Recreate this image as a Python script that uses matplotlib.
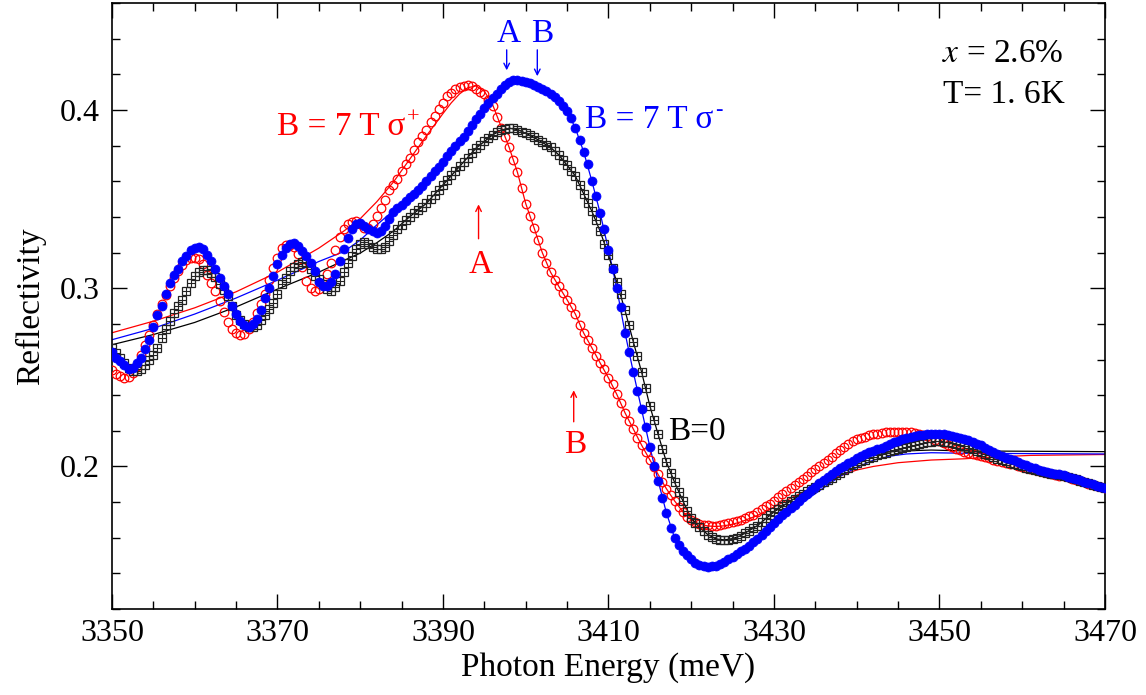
import matplotlib
matplotlib.use("Agg")
import matplotlib.pyplot as plt
import numpy as np

plt.rcParams['font.family'] = ['Liberation Serif', 'DejaVu Serif']
plt.rcParams['mathtext.fontset'] = 'stix'

# measured spectra, 0.5 meV steps from 3350 to 3470 meV
energy = np.arange(3350, 3470.25, 0.5)

sigma_minus = [  # B = 7 T, sigma-
    0.264, 0.261, 0.259, 0.257, 0.2548, 0.2555, 0.258, 0.261, 0.266, 0.271,
    0.278, 0.285, 0.290, 0.297, 0.303, 0.3075, 0.311, 0.315, 0.318, 0.3215,
    0.3228, 0.3234, 0.3218, 0.3185, 0.315, 0.311, 0.306, 0.301, 0.2965, 0.290,
    0.2855, 0.2815, 0.2793, 0.2783, 0.280, 0.283, 0.2875, 0.2945, 0.300, 0.3066,
    0.3135, 0.3185, 0.3228, 0.325, 0.3252, 0.3236, 0.321, 0.3178, 0.314, 0.3095,
    0.3035, 0.3012, 0.301, 0.3035, 0.308, 0.315, 0.322, 0.328, 0.333, 0.3358,
    0.3365, 0.335, 0.3332, 0.332, 0.331, 0.3322, 0.335, 0.339, 0.343, 0.3448,
    0.3465, 0.349, 0.351, 0.3528, 0.355, 0.3575, 0.360, 0.363, 0.3655, 0.368,
    0.371, 0.374, 0.3768, 0.3796, 0.3824, 0.385, 0.388, 0.3915, 0.395, 0.398,
    0.401, 0.4037, 0.4065, 0.409, 0.4117, 0.4142, 0.4158, 0.4168, 0.4168, 0.4164,
    0.4157, 0.415, 0.414, 0.4131, 0.412, 0.4109, 0.4092, 0.4075, 0.405, 0.4025,
    0.3995, 0.3953, 0.3898, 0.3832, 0.3766, 0.3695, 0.360, 0.3518, 0.3421, 0.3332,
    0.3215, 0.311, 0.300, 0.2895, 0.275, 0.264, 0.253, 0.2425, 0.232, 0.222,
    0.211, 0.2005, 0.192, 0.1825, 0.174, 0.1655, 0.1598, 0.1558, 0.1525, 0.1502,
    0.1478, 0.1458, 0.1447, 0.144, 0.1438, 0.1439, 0.1444, 0.1451, 0.1465, 0.1479,
    0.1493, 0.1507, 0.1523, 0.1539, 0.1556, 0.1575, 0.1594, 0.1617, 0.164, 0.1662,
    0.1683, 0.1704, 0.1725, 0.1746, 0.1766, 0.1786, 0.1806, 0.1826, 0.1846, 0.1866,
    0.1886, 0.1905, 0.1922, 0.194, 0.1958, 0.1975, 0.199, 0.2005, 0.202, 0.2033,
    0.2045, 0.2057, 0.2068, 0.2079, 0.2088, 0.2097, 0.2106, 0.2115, 0.2125, 0.2135,
    0.2145, 0.2152, 0.216, 0.2166, 0.2172, 0.2176, 0.2179, 0.2181, 0.2183, 0.2183,
    0.2182, 0.218, 0.2176, 0.2171, 0.2165, 0.2159, 0.2153, 0.2146, 0.2138, 0.2128,
    0.2118, 0.2106, 0.2094, 0.2082, 0.207, 0.206, 0.205, 0.2042, 0.2034, 0.2025,
    0.2016, 0.2008, 0.1999, 0.199, 0.1982, 0.1975, 0.1969, 0.1964, 0.1959, 0.1955,
    0.195, 0.1943, 0.1936, 0.193, 0.1923, 0.1915, 0.1907, 0.1899, 0.1892, 0.1886,
    0.188]

sigma_plus = [  # B = 7 T, sigma+
    0.2543, 0.252, 0.2505, 0.2497, 0.2502, 0.2525, 0.2565, 0.2625, 0.268, 0.274,
    0.2795, 0.2855, 0.291, 0.296, 0.301, 0.3055, 0.3095, 0.313, 0.3158, 0.3172,
    0.3172, 0.3162, 0.3135, 0.3076, 0.303, 0.2985, 0.2928, 0.2865, 0.2812, 0.277,
    0.2748, 0.274, 0.2745, 0.2772, 0.2812, 0.2862, 0.291, 0.2965, 0.3045, 0.3115,
    0.317, 0.3228, 0.3245, 0.3245, 0.323, 0.319, 0.312, 0.304, 0.300, 0.2985,
    0.2995, 0.3025, 0.308, 0.314, 0.3215, 0.329, 0.3335, 0.336, 0.3373, 0.3375,
    0.336, 0.334, 0.334, 0.336, 0.3403, 0.345, 0.3495, 0.355, 0.358, 0.3615,
    0.366, 0.3695, 0.373, 0.3775, 0.382, 0.3856, 0.3888, 0.393, 0.3965, 0.4005,
    0.404, 0.408, 0.4098, 0.4115, 0.413, 0.4137, 0.414, 0.4135, 0.412, 0.4103,
    0.4087, 0.4055, 0.402, 0.3963, 0.390, 0.385, 0.379, 0.372, 0.365, 0.356,
    0.3475, 0.3403, 0.334, 0.3272, 0.320, 0.3141, 0.309, 0.3045, 0.301, 0.2975,
    0.2935, 0.2895, 0.2855, 0.2795, 0.2749, 0.271, 0.2665, 0.2617, 0.258, 0.2545,
    0.2497, 0.246, 0.2405, 0.2355, 0.2301, 0.2255, 0.221, 0.216, 0.212, 0.208,
    0.2037, 0.1996, 0.1955, 0.1915, 0.1875, 0.184, 0.1806, 0.1772, 0.1745, 0.1718,
    0.170, 0.1688, 0.1678, 0.1672, 0.1669, 0.1667, 0.1666, 0.1671, 0.1677, 0.1683,
    0.1688, 0.1694, 0.1702, 0.171, 0.172, 0.173, 0.1744, 0.176, 0.1776, 0.1792,
    0.1808, 0.1826, 0.1844, 0.186, 0.1878, 0.1895, 0.1913, 0.1931, 0.1949, 0.1967,
    0.1985, 0.200, 0.2018, 0.2036, 0.2055, 0.2075, 0.2095, 0.211, 0.2128, 0.214,
    0.2152, 0.2162, 0.2168, 0.2174, 0.218, 0.2184, 0.2188, 0.2191, 0.2193, 0.2195,
    0.2195, 0.2195, 0.2193, 0.2191, 0.2189, 0.2184, 0.2178, 0.217, 0.216, 0.215,
    0.214, 0.213, 0.2118, 0.2108, 0.2098, 0.209, 0.2082, 0.2075, 0.2068, 0.2063,
    0.2058, 0.2052, 0.2045, 0.2038, 0.2031, 0.2026, 0.2021, 0.2016, 0.2011, 0.2004,
    0.1998, 0.1993, 0.1987, 0.198, 0.1973, 0.1967, 0.1962, 0.1957, 0.1953, 0.1949,
    0.1944, 0.1938, 0.1932, 0.1926, 0.192, 0.1912, 0.1904, 0.1896, 0.1889, 0.1883,
    0.1877]

zero_field = [  # B = 0
    0.2665, 0.2638, 0.261, 0.258, 0.2555, 0.2538, 0.2535, 0.2545, 0.2571, 0.2595,
    0.2625, 0.2665, 0.2718, 0.2772, 0.2815, 0.2862, 0.2899, 0.2935, 0.2983, 0.3028,
    0.3067, 0.309, 0.3102, 0.310, 0.3088, 0.3062, 0.3025, 0.299, 0.2955, 0.2899,
    0.285, 0.2823, 0.280, 0.2783, 0.278, 0.2796, 0.282, 0.285, 0.2882, 0.2917,
    0.2965, 0.3025, 0.3055, 0.3094, 0.3118, 0.3136, 0.3148, 0.314, 0.311, 0.307,
    0.305, 0.3022, 0.2995, 0.2985, 0.3005, 0.304, 0.309, 0.314, 0.318, 0.322,
    0.325, 0.3262, 0.325, 0.3232, 0.3222, 0.3222, 0.3234, 0.3265, 0.330, 0.3332,
    0.3355, 0.338, 0.3402, 0.342, 0.3437, 0.3455, 0.3476, 0.350, 0.3524, 0.355,
    0.358, 0.361, 0.3636, 0.366, 0.3683, 0.3706, 0.373, 0.3758, 0.3786, 0.3806,
    0.3826, 0.3845, 0.386, 0.3875, 0.3887, 0.3895, 0.3898, 0.3897, 0.389, 0.3879,
    0.387, 0.386, 0.3846, 0.3832, 0.3818, 0.3804, 0.379, 0.3772, 0.3748, 0.372,
    0.369, 0.366, 0.363, 0.358, 0.353, 0.3478, 0.3431, 0.3384, 0.3319, 0.325,
    0.3185, 0.3115, 0.3035, 0.2965, 0.2875, 0.2795, 0.270, 0.262, 0.253, 0.244,
    0.234, 0.226, 0.218, 0.210, 0.2025, 0.1965, 0.191, 0.1855, 0.1806, 0.175,
    0.171, 0.168, 0.1658, 0.1635, 0.1618, 0.1603, 0.1593, 0.1589, 0.1588, 0.159,
    0.1595, 0.160, 0.1612, 0.1624, 0.1638, 0.1653, 0.1668, 0.169, 0.171, 0.1727,
    0.1745, 0.1762, 0.1778, 0.1792, 0.1806, 0.182, 0.1834, 0.1848, 0.1862, 0.1875,
    0.1887, 0.1898, 0.191, 0.1922, 0.1935, 0.195, 0.1965, 0.198, 0.1994, 0.2006,
    0.2017, 0.2028, 0.2037, 0.2046, 0.2054, 0.2062, 0.207, 0.2077, 0.2084, 0.209,
    0.2097, 0.2103, 0.2109, 0.2115, 0.2121, 0.2126, 0.2131, 0.2135, 0.2138, 0.214,
    0.214, 0.2139, 0.2136, 0.2132, 0.2127, 0.2121, 0.2114, 0.2106, 0.2098, 0.2089,
    0.208, 0.2071, 0.2062, 0.2053, 0.2044, 0.2036, 0.2028, 0.2021, 0.2014, 0.2007,
    0.200, 0.1994, 0.1988, 0.1981, 0.1975, 0.1969, 0.1964, 0.1959, 0.1955, 0.1951,
    0.1946, 0.194, 0.1933, 0.1927, 0.192, 0.1912, 0.1905, 0.1897, 0.189, 0.1884,
    0.1878]

# model fits
plus_fit_e = [3350, 3355, 3360, 3365, 3370, 3375, 3378, 3380, 3382, 3384, 3386, 3388,
              3390, 3391, 3392, 3393, 3394, 3395, 3396, 3397, 3398, 3399, 3400, 3401,
              3402, 3403, 3404, 3405, 3406, 3407, 3408, 3409, 3410, 3411, 3412, 3413,
              3414, 3415, 3416, 3417, 3418, 3419, 3420, 3421, 3422, 3423, 3424, 3425,
              3426, 3428, 3430, 3432, 3434, 3436, 3438, 3440, 3442, 3445, 3449, 3453,
              3457, 3461, 3470]
plus_fit = [0.275, 0.2815, 0.289, 0.298, 0.309, 0.3225, 0.332, 0.339, 0.3485, 0.3595, 0.3725, 0.3855,
            0.398, 0.404, 0.409, 0.4125, 0.4135, 0.4105, 0.403, 0.391, 0.379, 0.365, 0.3475, 0.334,
            0.320, 0.309, 0.301, 0.2935, 0.2855, 0.2749, 0.2665, 0.258, 0.2497, 0.2405, 0.2301, 0.221,
            0.212, 0.2037, 0.1955, 0.1875, 0.1806, 0.1745, 0.170, 0.1676, 0.1666, 0.1663, 0.1667, 0.1676,
            0.1689, 0.1725, 0.1772, 0.1822, 0.1866, 0.1908, 0.1948, 0.198, 0.200, 0.2021, 0.2036, 0.2043,
            0.2054, 0.2062, 0.2067]

minus_fit_e = [3350, 3355, 3360, 3365, 3370, 3375, 3378, 3380, 3382, 3384, 3386, 3388,
               3390, 3392, 3394, 3396, 3397, 3398, 3399, 3400, 3401, 3402, 3403, 3404,
               3405, 3406, 3407, 3408, 3409, 3410, 3411, 3412, 3413, 3414, 3415, 3416,
               3417, 3418, 3419, 3420, 3421, 3422, 3423, 3424, 3426, 3428, 3430, 3432,
               3434, 3436, 3438, 3440, 3442, 3444, 3446, 3449, 3453, 3470]
minus_fit = [0.2711, 0.2775, 0.2855, 0.2945, 0.3045, 0.315, 0.3205, 0.327, 0.3355, 0.3435, 0.351, 0.360,
             0.371, 0.3824, 0.395, 0.4065, 0.4117, 0.4158, 0.4168, 0.4157, 0.414, 0.412, 0.4092, 0.405,
             0.3995, 0.3898, 0.3766, 0.360, 0.3421, 0.3215, 0.300, 0.275, 0.253, 0.232, 0.211, 0.192,
             0.174, 0.1598, 0.1525, 0.1478, 0.1447, 0.1438, 0.1444, 0.1465, 0.1523, 0.1594, 0.1672, 0.1745,
             0.1815, 0.188, 0.1945, 0.1995, 0.2035, 0.2058, 0.207, 0.2077, 0.2074, 0.207]

zero_fit_e = [3350, 3355, 3360, 3365, 3370, 3375, 3378, 3380, 3382, 3384, 3386, 3388,
              3390, 3392, 3394, 3396, 3397, 3398, 3399, 3400, 3401, 3402, 3403, 3404,
              3405, 3406, 3407, 3408, 3409, 3410, 3411, 3412, 3413, 3414, 3415, 3416,
              3417, 3418, 3419, 3420, 3421, 3422, 3423, 3424, 3425, 3426, 3428, 3430,
              3432, 3434, 3436, 3438, 3440, 3442, 3445, 3449, 3453, 3470]
zero_fit = [0.2683, 0.274, 0.2808, 0.2895, 0.2995, 0.309, 0.3155, 0.3197, 0.3255, 0.332, 0.3402, 0.3476,
            0.358, 0.3683, 0.3786, 0.386, 0.3887, 0.3898, 0.389, 0.387, 0.3846, 0.3818, 0.379, 0.3748,
            0.369, 0.363, 0.353, 0.3431, 0.3319, 0.3185, 0.3035, 0.2875, 0.270, 0.253, 0.234, 0.218,
            0.2025, 0.191, 0.1806, 0.171, 0.1658, 0.1618, 0.1593, 0.1588, 0.1595, 0.1612, 0.1668, 0.1745,
            0.1806, 0.1862, 0.1912, 0.1985, 0.204, 0.2072, 0.2086, 0.2092, 0.2087, 0.2083]

RED = '#ff0000'
BLUE = '#0000ff'

fig = plt.figure(figsize=(11.46, 6.95), dpi=100)
ax = fig.add_axes([0.0977, 0.1237, 0.8665, 0.8719])

# fit lines
ax.plot(plus_fit_e, plus_fit, color=RED, lw=0.9, zorder=2)
ax.plot(minus_fit_e, minus_fit, color=BLUE, lw=0.9, zorder=2)
ax.plot(zero_fit_e, zero_fit, color='k', lw=0.9, zorder=2)

# data
ax.plot(energy, sigma_plus, 'o', ms=6.2, mfc='none', mec=RED, mew=0.9, zorder=3)
ax.plot(energy, zero_field, 's', ms=5.5, mfc='none', mec='#222222', mew=0.9, zorder=4)
ax.plot(energy, zero_field, '+', ms=5.5, mec='#222222', mew=0.8, zorder=4)
ax.plot(energy, sigma_minus, 'o', ms=6.5, mfc=BLUE, mec=BLUE, mew=0.5, zorder=5)

ax.set_xlim(3350, 3470)
ax.set_ylim(0.12, 0.46)
ax.set_xticks(np.arange(3350, 3471, 20))
ax.set_xticks(np.arange(3350, 3471, 5), minor=True)
ax.set_yticks([0.2, 0.3, 0.4])
ax.set_yticks(np.arange(0.12, 0.461, 0.02), minor=True)
ax.tick_params(which='both', direction='in', top=True, right=True, width=1.0)
ax.tick_params(which='major', length=10.5)
ax.tick_params(which='minor', length=5.5)
ax.tick_params(axis='x', labelsize=23, pad=7)
ax.tick_params(axis='y', labelsize=23, pad=9)
for sp in ax.spines.values():
    sp.set_linewidth(1.2)

ax.set_xlabel('Photon Energy (meV)', fontsize=24, labelpad=3)
ax.set_ylabel('Reflectivity', fontsize=24, labelpad=10)

# labels
t_plus = ax.text(3369.9, 0.386, 'B = 7 T σ', color=RED, fontsize=24, ha='left', va='baseline')
ax.annotate('+', xy=(1, 1), xycoords=t_plus, xytext=(1, 2), textcoords='offset points',
            color=RED, fontsize=16, ha='left', va='top')
t_minus = ax.text(3407.2, 0.3897, 'B = 7 T σ', color=BLUE, fontsize=24, ha='left', va='baseline')
ax.annotate('-', xy=(1, 1), xycoords=t_minus, xytext=(1, 3), textcoords='offset points',
            color=BLUE, fontsize=16, ha='left', va='top')
ax.text(3417.2, 0.2147, 'B=0', color='k', fontsize=24, ha='left', va='baseline')
ax.text(3450.3, 0.4271, '$x$ = 2.6%', color='k', fontsize=24, ha='left', va='baseline')
ax.text(3450.4, 0.4041, 'T= 1. 6K', color='k', fontsize=24, ha='left', va='baseline')

# blue arrows (sigma-)
ax.text(3397.9, 0.4383, 'A', color=BLUE, fontsize=24, ha='center', va='baseline')
ax.text(3402.0, 0.4383, 'B', color=BLUE, fontsize=24, ha='center', va='baseline')
ax.annotate('', xy=(3397.7, 0.4207), xytext=(3397.7, 0.4353),
            arrowprops=dict(arrowstyle='->', color=BLUE, lw=1.0))
ax.annotate('', xy=(3401.4, 0.4174), xytext=(3401.4, 0.4353),
            arrowprops=dict(arrowstyle='->', color=BLUE, lw=1.0))

# red arrows (sigma+)
ax.text(3394.6, 0.3085, 'A', color=RED, fontsize=24, ha='center', va='baseline')
ax.annotate('', xy=(3394.3, 0.3486), xytext=(3394.3, 0.3262),
            arrowprops=dict(arrowstyle='->', color=RED, lw=1.0))
ax.text(3406.0, 0.2078, 'B', color=RED, fontsize=24, ha='center', va='baseline')
ax.annotate('', xy=(3405.8, 0.2443), xytext=(3405.8, 0.2235),
            arrowprops=dict(arrowstyle='->', color=RED, lw=1.0))

fig.savefig('out.png', dpi=100)
